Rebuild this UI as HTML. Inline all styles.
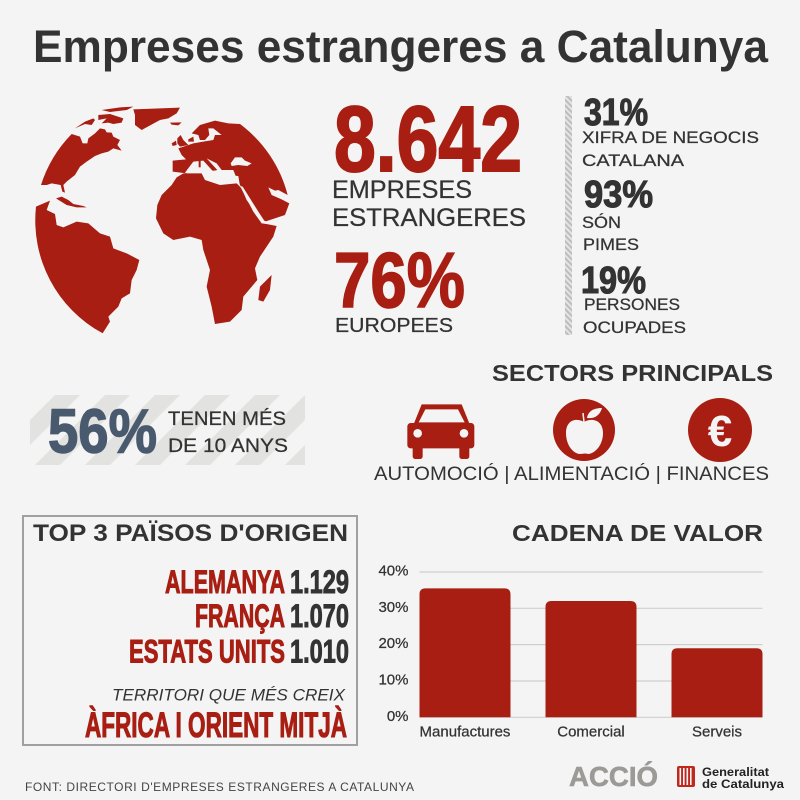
<!DOCTYPE html>
<html lang="ca">
<head>
<meta charset="utf-8">
<title>Empreses estrangeres a Catalunya</title>
<style>
html,body{margin:0;padding:0;background:#f4f4f4;}
svg{display:block;}
text{font-family:"Liberation Sans",sans-serif;}
.cond{font-family:"Liberation Sans Narrow","Liberation Sans",sans-serif;font-weight:700;}
.dark{fill:#333;}
.red{fill:#a81e12;}
.cond.dark{stroke:#333;}
.cond.red{stroke:#a81e12;}
.label{stroke:#333;stroke-width:0.25px;}
</style>
</head>
<body>
<svg id="page" width="800" height="800" viewBox="0 0 800 800" xmlns="http://www.w3.org/2000/svg">
<defs>
<pattern id="band-stripes" width="35.355" height="35.355" patternUnits="userSpaceOnUse" patternTransform="rotate(45)">
<rect width="17.68" height="35.355" fill="#e2e2e0"/>
</pattern>
<pattern id="fine-hatch" width="4" height="4" patternUnits="userSpaceOnUse" patternTransform="rotate(-45)">
<rect width="4" height="4" fill="#e4e4e4"/>
<rect width="2" height="4" fill="#bdbdbd"/>
</pattern>
</defs>
<rect width="800" height="800" fill="#f4f4f4"/>

<text class="dark" x="33" y="62" font-size="45" font-weight="700" textLength="735" lengthAdjust="spacingAndGlyphs">Empreses estrangeres a Catalunya</text>

<g transform="translate(20,90) scale(0.3333)" fill="#a81e12">
<path d="M63,285 A385,385 0 0 1 155,132 L180,140 L188,160 L202,160 L205,145 L225,130 L240,115 L255,118 L260,127 L275,128 L280,140 L300,150 L292,165 L305,182 L280,175 L265,185 L245,190 L225,198 L200,215 L180,230 L165,255 L140,275 L130,285 L135,308 L127,305 L122,285 L95,280 L80,285 Z"/>
<path d="M165,115 L195,95 L220,85 L225,90 L215,105 L195,102 Z"/>
<path d="M235,75 L270,72 L310,85 L305,98 L280,102 L265,98 L245,100 L260,85 L235,90 Z"/>
<path d="M245,60 L300,52 L340,50 L320,60 L270,66 Z"/>
<path d="M340,58 L480,53 L470,70 L445,85 L420,90 L365,120 L345,105 L345,75 Z"/>
<path d="M450,98 L485,97 L475,106 L455,104 Z"/>
<path d="M108,325 L125,320 L145,330 L160,342 L190,348 L200,352 L170,352 L140,345 Z"/>
<path d="M48,350 L90,332 L80,360 L105,372 L110,405 L130,412 L170,395 L205,400 L240,430 L270,440 L280,475 L320,490 L358,510 L350,540 L335,570 L330,610 L305,625 L295,650 L265,680 L270,695 L248,730 A385,385 0 0 1 48,350 Z"/>
<path d="M458,212 L498,208 L485,195 L475,175 L520,160 L550,155 L580,150 L585,135 L605,135 L580,115 L565,115 L568,135 L555,150 L540,150 L535,135 L515,130 L540,105 L585,92 L625,100 L660,102 A385,385 0 0 1 803,315 L775,300 L765,302 L745,292 L755,315 L785,328 L808,340 L795,375 L735,395 L670,300 L660,285 L650,265 L640,240 L600,240 L500,250 L458,245 Z"/>
<path fill="#f4f4f4" d="M495,248 L520,215 L550,212 L580,245 L570,248 L592,240 L560,205 L590,220 L605,240 L615,255 L655,258 L660,288 L635,280 L585,275 L545,262 L505,252 Z"/>
<path fill="#f4f4f4" d="M632,220 L645,202 L665,202 L675,212 L695,220 L682,228 L655,225 L635,228 Z"/>
<path d="M408,385 L412,345 L425,315 L455,285 L470,262 L490,250 L545,250 L555,270 L600,285 L650,280 L665,295 L680,330 L730,400 L770,408 L760,440 L720,500 L705,535 L712,570 L670,620 L665,660 L630,695 L585,702 L575,650 L560,590 L570,540 L550,480 L545,450 L510,440 L460,450 L430,430 Z"/>
<path fill="#f4f4f4" d="M660,288 L668,290 L732,392 L770,405 L725,400 L700,365 Z"/>
<path d="M472,145 L482,135 L490,150 L505,165 L480,170 L472,160 Z"/>
<path d="M455,160 L468,152 L470,165 L458,168 Z"/>
<path d="M505,148 L520,140 L522,155 L505,155 Z"/>
<path d="M536,212 L542,212 L542,232 L536,232 Z"/>
<path d="M755,555 L750,600 L730,635 L715,630 L720,590 Z"/>
</g>

<text class="cond red" style="stroke-width:2px" x="334" y="171" font-size="93" textLength="188" lengthAdjust="spacingAndGlyphs">8.642</text>
<text class="dark label" x="332" y="198" font-size="25" textLength="140" lengthAdjust="spacingAndGlyphs">EMPRESES</text>
<text class="dark label" x="332" y="226" font-size="25" textLength="194" lengthAdjust="spacingAndGlyphs">ESTRANGERES</text>
<text class="cond red" style="stroke-width:1.6px" x="334" y="307" font-size="78" textLength="131" lengthAdjust="spacingAndGlyphs">76%</text>
<text class="dark label" x="335" y="332" font-size="20.5" textLength="118" lengthAdjust="spacingAndGlyphs">EUROPEES</text>

<rect x="565" y="96" width="7" height="239" fill="url(#fine-hatch)"/>

<text class="cond dark" style="stroke-width:1.1px" x="584" y="125" font-size="38" textLength="64" lengthAdjust="spacingAndGlyphs">31%</text>
<text class="dark label" x="582" y="143" font-size="17" textLength="177" lengthAdjust="spacingAndGlyphs">XIFRA DE NEGOCIS</text>
<text class="dark label" x="582" y="166" font-size="17" textLength="102" lengthAdjust="spacingAndGlyphs">CATALANA</text>
<text class="cond dark" style="stroke-width:1.1px" x="584" y="207" font-size="38" textLength="69" lengthAdjust="spacingAndGlyphs">93%</text>
<text class="dark label" x="582" y="228" font-size="17" textLength="39" lengthAdjust="spacingAndGlyphs">SÓN</text>
<text class="dark label" x="583" y="250" font-size="17" textLength="56" lengthAdjust="spacingAndGlyphs">PIMES</text>
<text class="cond dark" style="stroke-width:1.1px" x="581" y="293" font-size="38" textLength="65" lengthAdjust="spacingAndGlyphs">19%</text>
<text class="dark label" x="584" y="310" font-size="17" textLength="96" lengthAdjust="spacingAndGlyphs">PERSONES</text>
<text class="dark label" x="583" y="333" font-size="17" textLength="103" lengthAdjust="spacingAndGlyphs">OCUPADES</text>

<rect x="30" y="395" width="275" height="70" fill="url(#band-stripes)"/>
<text class="cond" style="stroke:#4a5a6e;stroke-width:1.4px" x="48" y="452.5" font-size="62" fill="#4a5a6e" textLength="109" lengthAdjust="spacingAndGlyphs">56%</text>
<text class="dark label" x="168" y="425" font-size="19" textLength="118" lengthAdjust="spacingAndGlyphs">TENEN MÉS</text>
<text class="dark label" x="168" y="452" font-size="19" textLength="120" lengthAdjust="spacingAndGlyphs">DE 10 ANYS</text>

<text class="dark" x="492" y="381" font-size="23" font-weight="700" textLength="281" lengthAdjust="spacingAndGlyphs">SECTORS PRINCIPALS</text>

<g transform="translate(390,395) scale(0.3333)" fill="#a81e12">
<path d="M95,28 L215,28 L240,90 L70,90 Z"/>
<path d="M106,43 L204,43 L224,82 L86,82 Z" fill="#f4f4f4"/>
<rect x="52" y="84" width="201" height="76" rx="10"/>
<rect x="68" y="150" width="30" height="42" rx="8"/>
<rect x="208" y="150" width="30" height="42" rx="8"/>
<circle cx="83" cy="115" r="13" fill="#f4f4f4"/>
<circle cx="222" cy="115" r="13" fill="#f4f4f4"/>
</g>
<g>
<circle cx="584" cy="430" r="31" fill="#a81e12"/>
<path d="M584,422 C575,417 566,421 566,433 C566,446 574,454 580,454 C583,454 585,453 588,454 C594,454 603,446 603,433 C603,421 593,417 584,422 Z" fill="#f4f4f4"/>
<path d="M587,418 C588,411 594,408 602,408 C600,415 595,419 587,418 Z" fill="#f4f4f4"/>
<path d="M584,422 L583,413" stroke="#f4f4f4" stroke-width="1.5" fill="none"/>
</g>
<g>
<circle cx="720" cy="430" r="32" fill="#a81e12"/>
<text x="720" y="446" font-size="44" font-weight="700" fill="#f4f4f4" text-anchor="middle">€</text>
</g>
<text class="dark" x="374" y="480" font-size="19" textLength="395" lengthAdjust="spacingAndGlyphs">AUTOMOCIÓ | ALIMENTACIÓ | FINANCES</text>

<rect x="23" y="516" width="334" height="229" fill="none" stroke="#a0a0a0" stroke-width="2"/>
<text class="dark" x="33" y="541" font-size="24" font-weight="700" textLength="315" lengthAdjust="spacingAndGlyphs">TOP 3 PAÏSOS D'ORIGEN</text>
<text class="cond red" style="stroke-width:1px" x="165" y="593" font-size="32" textLength="120" lengthAdjust="spacingAndGlyphs">ALEMANYA</text>
<text class="cond dark" style="stroke-width:0.9px" x="290" y="593" font-size="32" textLength="59" lengthAdjust="spacingAndGlyphs">1.129</text>
<text class="cond red" style="stroke-width:1px" x="195" y="627" font-size="32" textLength="90" lengthAdjust="spacingAndGlyphs">FRANÇA</text>
<text class="cond dark" style="stroke-width:0.9px" x="290" y="627" font-size="32" textLength="59" lengthAdjust="spacingAndGlyphs">1.070</text>
<text class="cond red" style="stroke-width:1px" x="129" y="662.5" font-size="32" textLength="156" lengthAdjust="spacingAndGlyphs">ESTATS UNITS</text>
<text class="cond dark" style="stroke-width:0.9px" x="290" y="662.5" font-size="32" textLength="59" lengthAdjust="spacingAndGlyphs">1.010</text>
<text class="dark" x="112" y="700.5" font-size="17" font-style="italic" textLength="233" lengthAdjust="spacingAndGlyphs">TERRITORI QUE MÉS CREIX</text>
<text class="cond red" style="stroke-width:1.1px" x="85" y="737" font-size="35" textLength="262" lengthAdjust="spacingAndGlyphs">ÀFRICA I ORIENT MITJÀ</text>

<text class="dark" x="512" y="541" font-size="23" font-weight="700" textLength="251" lengthAdjust="spacingAndGlyphs">CADENA DE VALOR</text>
<g id="chart"></g>

<text x="25" y="791" font-size="12" fill="#444" textLength="389" lengthAdjust="spacing">FONT: DIRECTORI D'EMPRESES ESTRANGERES A CATALUNYA</text>
<text x="569" y="786" font-size="28" font-weight="700" fill="#9c9a96" stroke="#9c9a96" stroke-width="0.6" textLength="89" lengthAdjust="spacingAndGlyphs">ACCIÓ</text>
<g fill="#c0281e">
<rect x="677" y="766" width="18" height="21" rx="2"/>
<rect x="679.5" y="768" width="1.6" height="17" fill="#f4f4f4"/>
<rect x="683" y="768" width="1.6" height="17" fill="#f4f4f4"/>
<rect x="686.5" y="768" width="1.6" height="17" fill="#f4f4f4"/>
<rect x="690" y="768" width="1.6" height="17" fill="#f4f4f4"/>
</g>
<text x="702" y="776" font-size="12" font-weight="700" fill="#222" textLength="67" lengthAdjust="spacingAndGlyphs">Generalitat</text>
<text x="702" y="788" font-size="12" font-weight="700" fill="#222" textLength="82" lengthAdjust="spacingAndGlyphs">de Catalunya</text>

<script>
const categories = ['Manufactures', 'Comercial', 'Serveis'];
const values = [35.5, 32, 19];
const ticks = [0, 10, 20, 30, 40];

const NS = 'http://www.w3.org/2000/svg';
const chart = document.getElementById('chart');
const plotLeft = 419.5, plotRight = 762.5, plotTop = 572, plotBottom = 717.3;
const barWidth = 91, radius = 6, maxTick = 40;
const yScale = function (v) { return plotBottom - (v / maxTick) * (plotBottom - plotTop); };
const xCenter = function (i) {
  const step = (plotRight - plotLeft - barWidth) / (categories.length - 1);
  return plotLeft + barWidth / 2 + i * step;
};

ticks.forEach(function (t) {
  const line = document.createElementNS(NS, 'line');
  
  
  line.setAttribute('x1', plotLeft);
  line.setAttribute('x2', plotRight);
  line.setAttribute('y1', yScale(t));
  line.setAttribute('y2', yScale(t));
  line.setAttribute('stroke', '#cfcfcf');
  line.setAttribute('stroke-width', '1.2');
  chart.appendChild(line);

  const label = document.createElementNS(NS, 'text');
  
  
  label.setAttribute('x', 408.5);
  label.setAttribute('y', yScale(t) + 3.5);
  label.setAttribute('text-anchor', 'end');
  label.setAttribute('font-size', '15');
  label.setAttribute('fill', '#333');
  label.setAttribute('stroke', '#333');
  label.setAttribute('stroke-width', '0.25');
  label.textContent = t + '%';
  chart.appendChild(label);
});

categories.forEach(function (name, i) {
  const left = xCenter(i) - barWidth / 2;
  const right = xCenter(i) + barWidth / 2;
  const top = yScale(values[i]);
  const bar = document.createElementNS(NS, 'path');
  
  
  bar.setAttribute('d',
    'M' + left + ',' + plotBottom +
    ' V' + (top + radius) +
    ' Q' + left + ',' + top + ' ' + (left + radius) + ',' + top +
    ' H' + (right - radius) +
    ' Q' + right + ',' + top + ' ' + right + ',' + (top + radius) +
    ' V' + plotBottom + ' Z');
  bar.setAttribute('fill', '#a81e12');
  chart.appendChild(bar);

  const label = document.createElementNS(NS, 'text');
  
  
  label.setAttribute('x', xCenter(i));
  label.setAttribute('y', 736.5);
  label.setAttribute('text-anchor', 'middle');
  label.setAttribute('font-size', '15');
  label.setAttribute('fill', '#333');
  label.setAttribute('stroke', '#333');
  label.setAttribute('stroke-width', '0.25');
  label.textContent = name;
  chart.appendChild(label);
});
</script>
</svg>
</body>
</html>
